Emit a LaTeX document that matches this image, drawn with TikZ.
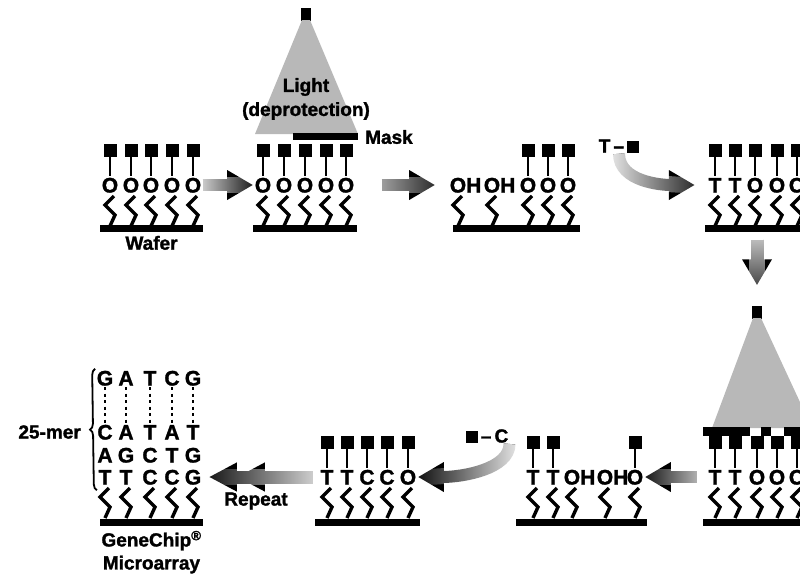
\documentclass[tikz,border=0pt]{standalone}
\usepackage{fontspec}
\setsansfont{Liberation Sans}[BoldFeatures={FakeBold=1.5}]
\usetikzlibrary{positioning}
\usetikzlibrary{arrows.meta}
\usetikzlibrary{fadings}
\usetikzlibrary{backgrounds}
\usetikzlibrary{decorations.pathreplacing}

% white veils that wash out the tail of an arrow
\tikzfading[name=tail west, left color=transparent!10, right color=transparent!100]
\tikzfading[name=tail east, left color=transparent!100, right color=transparent!10]
\tikzfading[name=tail north, top color=transparent!10, bottom color=transparent!100]

\tikzset{
    nuc/.style={font=\sffamily\bfseries\fontsize{21}{21}\selectfont,
        inner sep=1.5pt, text height=15pt, text depth=0pt},
    tag/.style={font=\sffamily\bfseries\fontsize{19}{23}\selectfont, inner sep=1pt},
    block/.style={fill=black, minimum size=13pt, inner sep=0pt},
    stick/.style={line width=2.4pt},
    linker/.style={line width=3.4pt},
    support/.style={fill=black, minimum height=7pt, inner sep=0pt},
    beam/.style={fill=black!28},
    flowarrow/.style={line width=12pt, -{Triangle[length=26pt,width=28pt]}},
    repeatarrow/.style={line width=13pt,
        -{Triangle[length=28pt,width=27pt]Triangle[length=28pt,width=27pt]}},
    washout/.style={postaction={draw=white, line width=16pt, -, path fading=#1}},
}

\begin{document}
\begin{tikzpicture}[x=1pt,y=-1pt]

    \useasboundingbox (0,0) rectangle (800,582);

    % one strand: base letter plus the linker down to the chip
    \def\site#1#2#3#4{
        \node[nuc] (#1) at (#2,#3) {#4};
        \draw[linker] (#1) ++(4,11) -- ++(-9,9) -- ++(10,10) -- ++(-5,11);
    }
    % photolabile group on top of a strand
    \def\blocked#1{
        \node[block, above=19pt of #1] (#1-p) {};
        \draw[stick] (#1-p) -- (#1);
    }

    % Light sources and masks
    \node[block, minimum width=10pt] (lampB) at (306,14) {};
    \fill[beam] (302,20) -- (310,20) -- (358,134) -- (255,134) -- cycle;
    \fill (293,133) rectangle (358,140);
    \node[tag] (light) at (306,87) {Light};
    \node[tag] (deprot) at (306,111) {(deprotection)};
    \node[tag, anchor=west] (masklabel) at (364,137) {Mask};

    \node[block, minimum width=10pt] (lampE) at (757,312) {};
    \fill[beam] (753,318) -- (761,318) -- (812,428) -- (712,428) -- cycle;
    \fill (703,427) rectangle (750,436);
    \fill (761,427) rectangle (771,436);
    \fill (784,427) rectangle (810,436);

    % Top row
    \foreach \x [count=\i] in {110,131,151,172,193} {
        \site{a\i}{\x}{185}{O}
        \blocked{a\i}
    }
    \node[support, minimum width=103pt] (abar) at (151.5,228) {};
    \node[tag, below=3pt of abar] (waferlabel) {Wafer};

    \foreach \x [count=\i] in {263,284,305,326,346} {
        \site{b\i}{\x}{185}{O}
        \blocked{b\i}
    }
    \node[support, minimum width=104pt] (bbar) at (305,228) {};

    \site{c1}{458}{185}{O\rlap{H}}
    \site{c2}{492}{185}{O\rlap{H}}
    \site{c3}{528}{185}{O} \blocked{c3}
    \site{c4}{548}{185}{O} \blocked{c4}
    \site{c5}{568}{185}{O} \blocked{c5}
    \node[support, minimum width=127pt] (cbar) at (516.5,228) {};

    \foreach \x/\l [count=\i] in {715/T,735/T,755/O,777/O,797/O} {
        \site{d\i}{\x}{185}{\l}
        \blocked{d\i}
    }
    \node[support, minimum width=107pt] (dbar) at (758.5,228) {};
    \node[tag] (tmono) at (619,146) {T\,--\,\rule{12pt}{12pt}};

    % Bottom row
    \foreach \x/\l [count=\i] in {715/T,735/T,757/O,777/O,797/O} {
        \site{e\i}{\x}{477}{\l}
        \blocked{e\i}
    }
    \node[support, minimum width=107pt] (ebar) at (756.5,522) {};

    \site{f1}{533}{477}{T} \blocked{f1}
    \site{f2}{553}{477}{T} \blocked{f2}
    \site{f3}{572}{477}{O\rlap{H}}
    \site{f4}{605}{477}{O\rlap{H}}
    \site{f5}{635}{477}{O} \blocked{f5}
    \node[support, minimum width=131pt] (fbar) at (581.5,522) {};
    \node[tag] (cmono) at (487,436) {\rule{12pt}{12pt}\,--\,C};

    \foreach \x/\l [count=\i] in {327/T,347/T,367/C,387/C,408/O} {
        \site{g\i}{\x}{477}{\l}
        \blocked{g\i}
    }
    \node[support, minimum width=105pt] (gbar) at (367.5,522) {};

    % Finished probes
    \foreach \x/\a/\b/\c/\d [count=\i] in {105/G/C/A/T,126/A/A/G/T,150/T/T/C/C,172/C/A/T/C,193/G/T/G/G} {
        \node[nuc] (h1-\i) at (\x,378) {\a};
        \node[nuc] (h2-\i) at (\x,432) {\b};
        \node[nuc] (h3-\i) at (\x,455) {\c};
        \site{h4-\i}{\x}{477}{\d}
        \draw[line width=2.8pt, dash pattern=on 3pt off 3.5pt] (h1-\i) -- (h2-\i);
    }
    \node[support, minimum width=103pt] (hbar) at (151.5,522) {};
    \draw[decorate, decoration={brace, amplitude=6pt}, line width=1.8pt]
        ([yshift=-4pt]h4-1.south west) -- (h1-1.north west);
    \node[tag, anchor=east] (mer) at (82,432) {25-mer};
    \node[tag, align=center, below=4pt of hbar] (chiplabel) {GeneChip\textsuperscript{®}\\Microarray};
    \node[tag] (repeatlabel) at (256,501) {Repeat};

    % Process arrows
    \begin{scope}[on background layer]
        \draw[flowarrow, washout=tail west] (a5.east) -- (b1.west);
        \draw[flowarrow, washout=tail west, shorten <=26pt, shorten >=13pt] (b5.east) -- (c1.west);
        \draw[flowarrow, washout=tail west, shorten >=12pt]
            (tmono.south) .. controls +(0,28) and +(-45,0) .. (d1.west);
        \draw[flowarrow, line width=13pt, washout=tail north, shorten <=8pt, shorten >=20pt]
            (dbar.south -| lampE) -- (lampE.north);
        \draw[flowarrow, washout=tail east, shorten <=10pt] (e1.west) -- (f5.east);
        \draw[flowarrow, washout=tail east]
            (cmono.south east) .. controls +(0,25) and +(45,0) .. (g5.east);
        \draw[repeatarrow, washout=tail east, shorten <=6pt, shorten >=6pt] (g1.west) -- (h4-5.east);
    \end{scope}

\end{tikzpicture}
\end{document}
